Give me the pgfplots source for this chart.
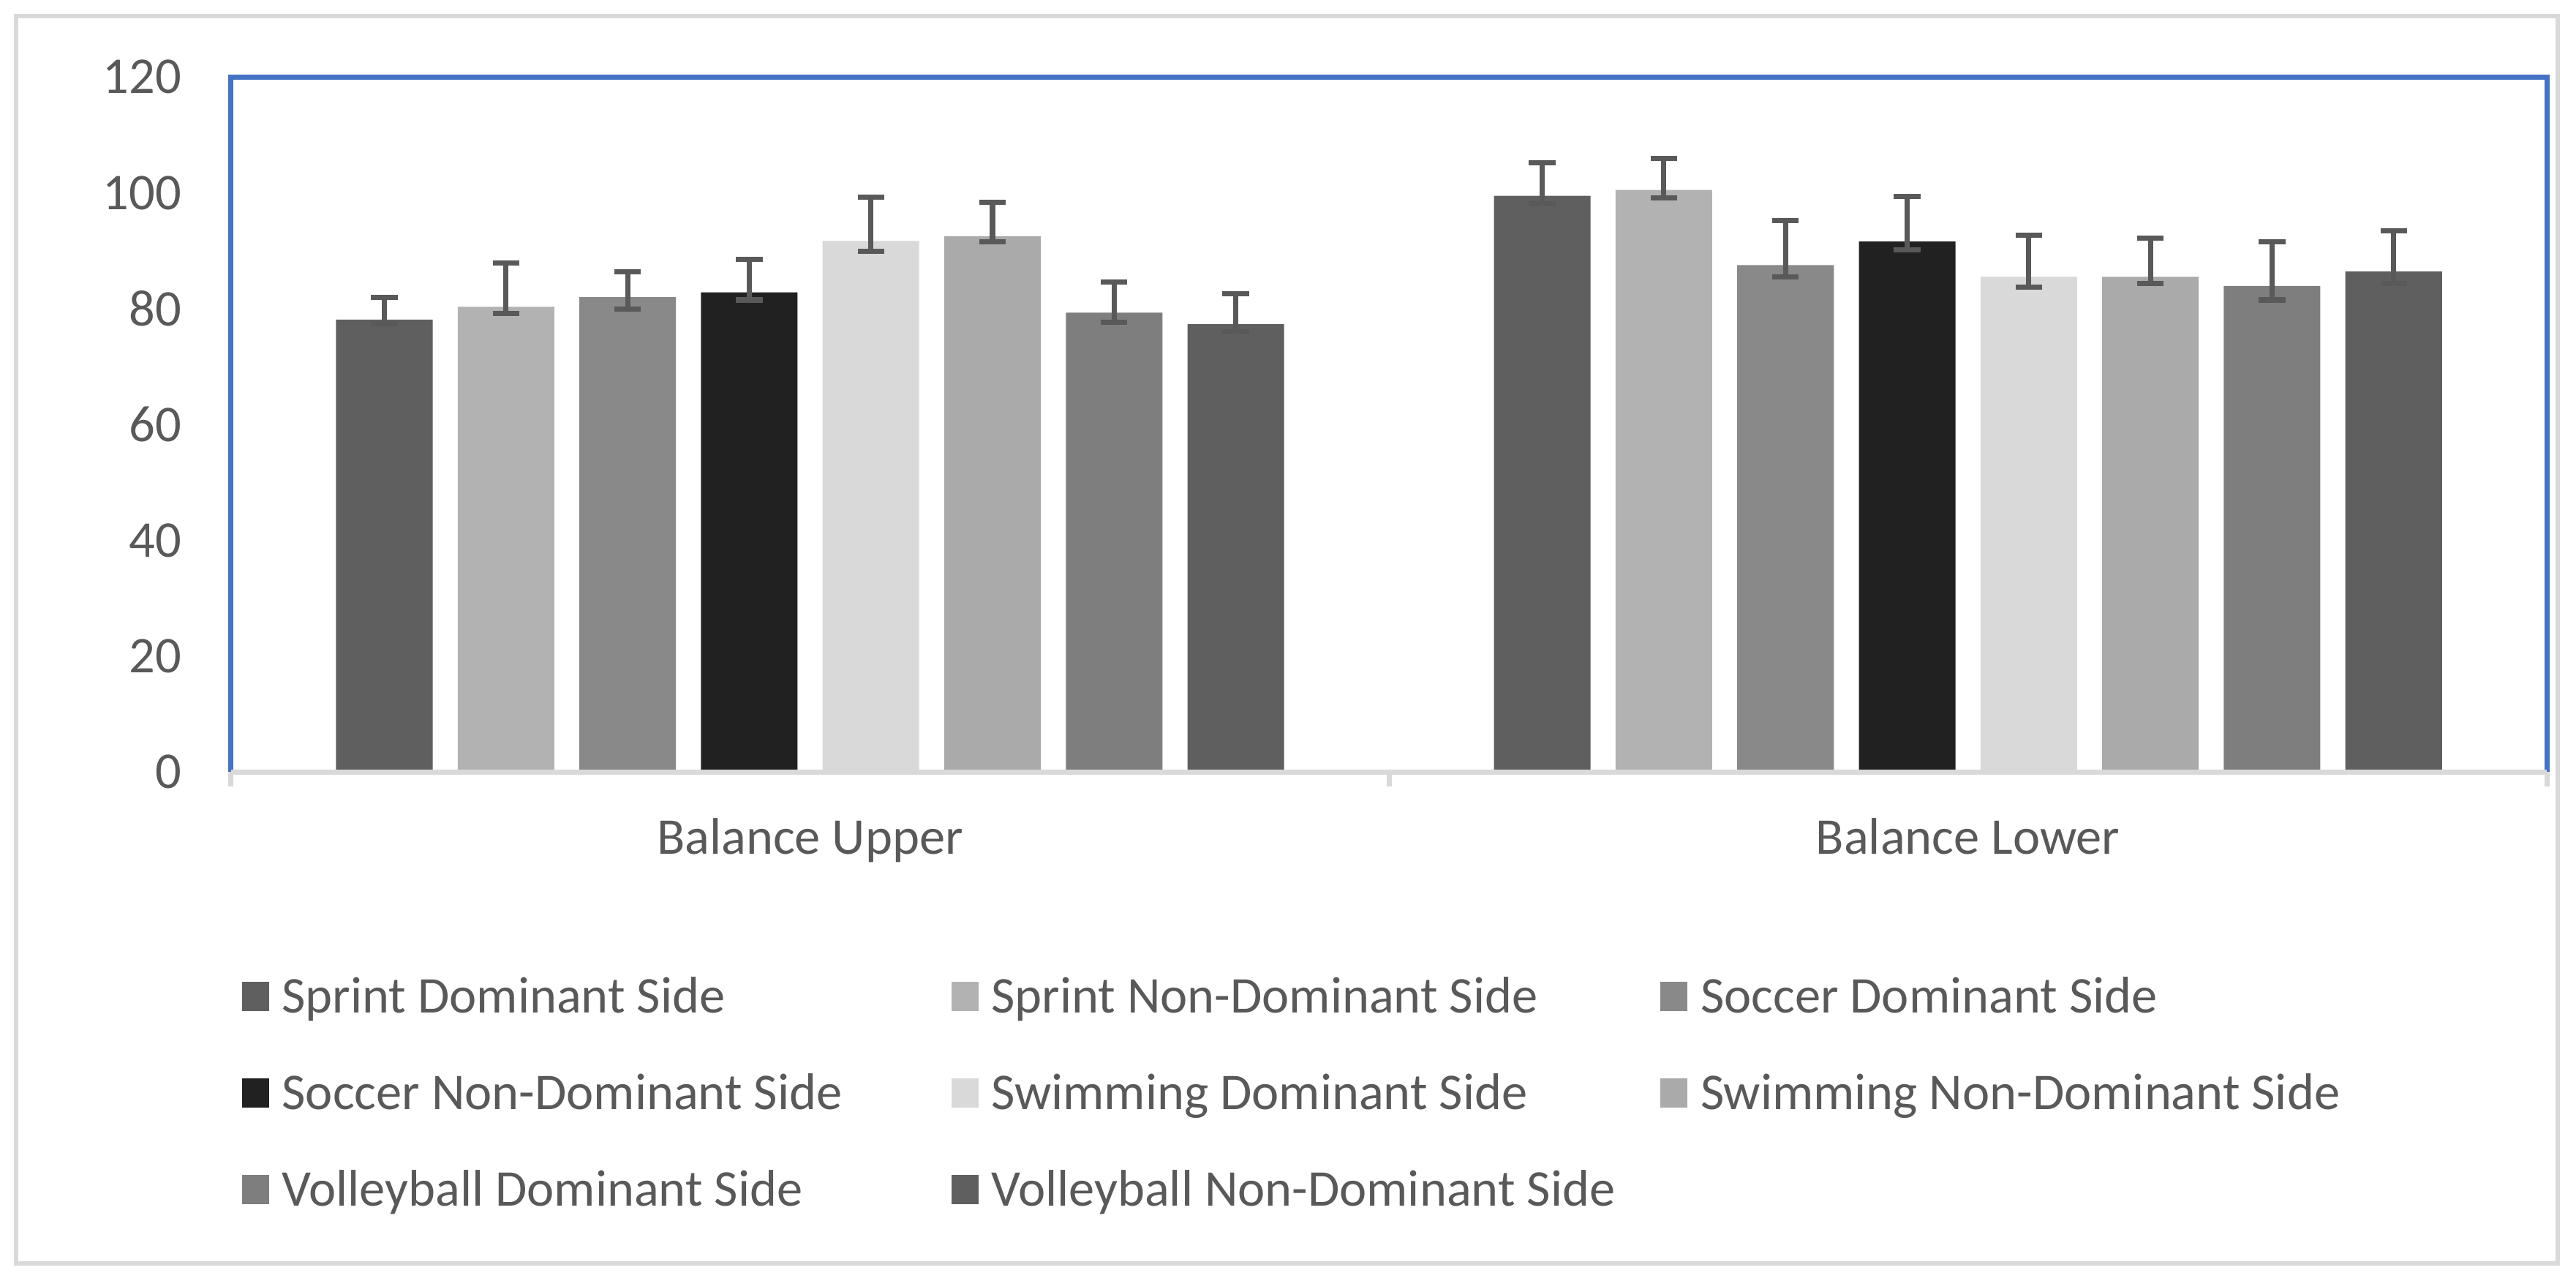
\documentclass[border=0pt]{standalone}
\usepackage{fontspec}
\setmainfont{Carlito}
\usepackage{pgfplots}
\pgfplotsset{compat=1.18}

\definecolor{c1}{HTML}{5F5F5F}
\definecolor{c2}{HTML}{B2B2B2}
\definecolor{c3}{HTML}{898989}
\definecolor{c4}{HTML}{212121}
\definecolor{c5}{HTML}{D9D9D9}
\definecolor{c6}{HTML}{AAAAAA}
\definecolor{c7}{HTML}{7E7E7E}
\definecolor{c8}{HTML}{5F5F5F}
\definecolor{errc}{HTML}{595959}
\definecolor{txtc}{HTML}{595959}
\definecolor{axc}{HTML}{D9D9D9}
\definecolor{plotblue}{HTML}{4472C4}

\pgfplotsset{
  sq/.style={legend image code/.code={\fill[##1] (0pt,-3.4pt) rectangle (6.3pt,3.4pt);}},
}
\newcommand{\lent}[1]{\makebox[152.9pt][l]{#1}}

\begin{document}
\begin{tikzpicture}
\begin{axis}[
  scale only axis,
  width=539.4pt, height=161.8pt,
  clip=false,
  xmin=-0.5, xmax=1.5,
  ymin=0, ymax=120,
  ybar=5.83pt, bar width=22.5pt,
  xtick={0,1},
  xticklabels={Balance Upper, Balance Lower},
  ytick={0,20,...,120},
  major tick length=0pt,
  axis line style={draw=none},
  tick style={draw=none},
  xtick pos=lower,
  extra x ticks={-0.5,0.5,1.5},
  extra x tick labels={},
  extra x tick style={tick align=outside, major tick length=3.4pt,
    tick style={draw=axc, line width=1.2pt}},
  /pgf/number format/assume math mode=true,
  ticklabel style={font=\fontsize{12}{14}\selectfont, text=txtc},
  yticklabel style={inner sep=0pt, xshift=-11.4pt},
  xticklabel style={anchor=base, inner sep=0pt, yshift=-19.1pt},
  error bars/error bar style={line width=1.2pt, draw=errc},
  error bars/error mark options={rotate=90, line width=1.2pt, mark size=3.1pt, draw=errc},
  legend columns=3,
  legend cell align=left,
  legend style={draw=none, fill=none, inner sep=0pt, outer sep=0pt,
    at={(0,0)}, anchor=north west, xshift=2.56pt, yshift=-48.45pt,
    font=\fontsize{12}{14}\selectfont, text=txtc,
    column sep=3pt, row sep=14.8pt,
    nodes={inner sep=0pt, text height=7.7pt, text depth=0pt}},
]
\addplot[fill=c1, draw=none, sq, error bars/.cd, y dir=both, y explicit]
  coordinates {(0,78.1) += (0,3.8) -= (0,0.7) (1,99.5) += (0,5.7) -= (0,1.4)};
\addplot[fill=c2, draw=none, sq, error bars/.cd, y dir=both, y explicit]
  coordinates {(0,80.3) += (0,7.6) -= (0,1.1) (1,100.5) += (0,5.5) -= (0,1.4)};
\addplot[fill=c3, draw=none, sq, error bars/.cd, y dir=both, y explicit]
  coordinates {(0,82.0) += (0,4.4) -= (0,2.1) (1,87.5) += (0,7.7) -= (0,2.0)};
\addplot[fill=c4, draw=none, sq, error bars/.cd, y dir=both, y explicit]
  coordinates {(0,82.8) += (0,5.7) -= (0,1.3) (1,91.6) += (0,7.8) -= (0,1.4)};
\addplot[fill=c5, draw=none, sq, error bars/.cd, y dir=both, y explicit]
  coordinates {(0,91.7) += (0,7.5) -= (0,1.8) (1,85.5) += (0,7.2) -= (0,1.8)};
\addplot[fill=c6, draw=none, sq, error bars/.cd, y dir=both, y explicit]
  coordinates {(0,92.5) += (0,5.9) -= (0,0.9) (1,85.5) += (0,6.7) -= (0,1.2)};
\addplot[fill=c7, draw=none, sq, error bars/.cd, y dir=both, y explicit]
  coordinates {(0,79.3) += (0,5.3) -= (0,1.7) (1,83.9) += (0,7.7) -= (0,2.4)};
\addplot[fill=c8, draw=none, sq, error bars/.cd, y dir=both, y explicit]
  coordinates {(0,77.3) += (0,5.3) -= (0,1.3) (1,86.4) += (0,7.0) -= (0,2.1)};
\addlegendentry{\lent{Sprint Dominant Side}}
\addlegendentry{\lent{Sprint Non-Dominant Side}}
\addlegendentry{\lent{Soccer Dominant Side}}
\addlegendentry{\lent{Soccer Non-Dominant Side}}
\addlegendentry{\lent{Swimming Dominant Side}}
\addlegendentry{\lent{Swimming Non-Dominant Side}}
\addlegendentry{\lent{Volleyball Dominant Side}}
\addlegendentry{\lent{Volleyball Non-Dominant Side}}
\draw[plotblue, line width=1.2pt] (rel axis cs:0,0) -- (rel axis cs:0,1)
  -- (rel axis cs:1,1) -- (rel axis cs:1,0);
\draw[axc, line width=1.2pt] (rel axis cs:0,0) -- (rel axis cs:1,0);
\end{axis}
\draw[axc, line width=1pt] (-50.1pt,-114.5pt) rectangle (541.9pt,176pt);
\path (-53.83pt,-118.4pt) rectangle (546.17pt,179.73pt);
\end{tikzpicture}
\end{document}
